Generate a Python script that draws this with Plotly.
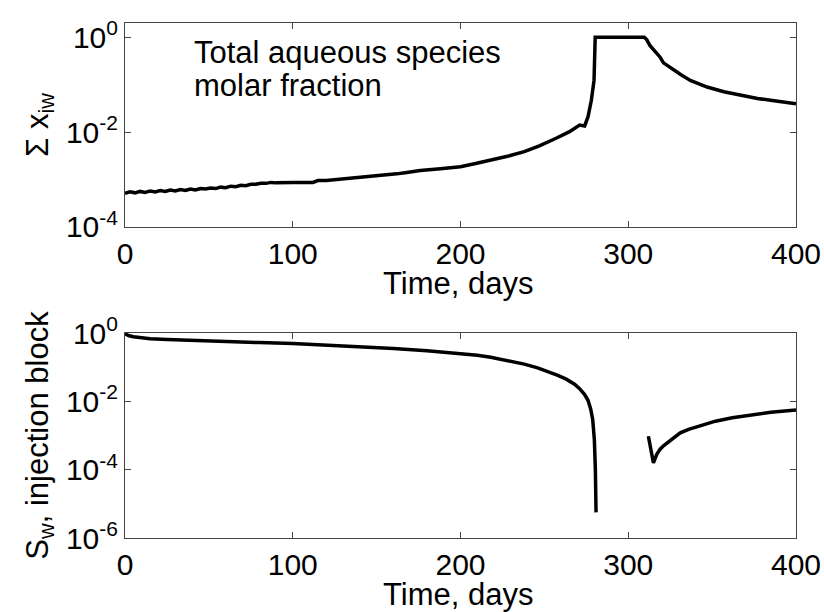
import plotly.graph_objects as go

# ---- data (time in days, values as log10 exponents) ----
t_top = [0, 3, 6, 9, 12, 15, 18, 21, 24, 27, 30, 33, 36, 39, 42, 45, 48, 51, 54, 57,
         60, 63, 66, 69, 72, 75, 78, 81, 84, 87, 90, 95, 100, 112, 115, 120, 126, 132,
         138, 144, 150, 156, 162, 168, 176, 188, 200, 209, 218, 228, 238, 247, 257,
         265, 271, 274, 276, 278, 279.6, 280.3, 309.5, 311, 313, 314.5, 316, 317.5,
         319, 321, 323, 327, 331, 337, 347, 357, 367, 377, 387, 400]
logx_top = [-3.29, -3.26, -3.28, -3.25, -3.27, -3.24, -3.26, -3.23, -3.25, -3.22,
            -3.24, -3.21, -3.23, -3.20, -3.22, -3.19, -3.20, -3.18, -3.19, -3.16,
            -3.17, -3.14, -3.15, -3.12, -3.13, -3.10, -3.10, -3.08, -3.08, -3.06,
            -3.07, -3.06, -3.06, -3.06, -3.02, -3.02, -3.00, -2.98, -2.96, -2.95,
            -2.93, -2.91, -2.88, -2.85, -2.81, -2.77, -2.73, -2.66, -2.59, -2.51,
            -2.41, -2.29, -2.13, -1.99, -1.85, -1.87, -1.68, -1.33, -0.91, 0.0, 0.0,
            -0.05, -0.18, -0.24, -0.31, -0.36, -0.42, -0.54, -0.59, -0.68, -0.78,
            -0.91, -1.05, -1.15, -1.22, -1.29, -1.34, -1.40]

t_bot = [0, 1, 2.5, 5, 9, 15, 25, 40, 60, 80, 100, 120, 140, 160, 180, 200, 210, 218,
         228, 238, 246, 253, 258, 263, 268, 271, 274, 276, 277.6, 278.8, 279.8, 280.4,
         280.8,
         None,
         312, 315, 317, 319, 321, 323, 327, 331, 336, 342, 352, 362, 372, 385, 400]
logs_bot = [-0.02, -0.05, -0.08, -0.11, -0.14, -0.17, -0.19, -0.22, -0.25, -0.28,
            -0.31, -0.35, -0.40, -0.45, -0.52, -0.60, -0.65, -0.71, -0.80, -0.91,
            -1.02, -1.14, -1.24, -1.35, -1.50, -1.63, -1.80, -1.97, -2.22, -2.53,
            -3.12, -4.00, -5.25,
            None,
            -3.02, -3.80, -3.55, -3.40, -3.30, -3.22, -3.06, -2.92, -2.82, -2.72, -2.58,
            -2.48, -2.40, -2.32, -2.25]

x_ticks = [0, 100, 200, 300, 400]
y_top_ticks = [-4, -2, 0]
y_bot_ticks = [-6, -4, -2, 0]
x_title = "Time, days"

FONT = "Liberation Sans, Arial, Helvetica, sans-serif"

def pw(v):
    return None if v is None else 10 ** v

fig = go.Figure()
fig.add_trace(go.Scatter(x=t_top, y=[pw(v) for v in logx_top], mode="lines",
                         line=dict(color="black", width=3.5), xaxis="x", yaxis="y",
                         showlegend=False))
fig.add_trace(go.Scatter(x=t_bot, y=[pw(v) for v in logs_bot], mode="lines",
                         line=dict(color="black", width=3.5), xaxis="x2", yaxis="y2",
                         showlegend=False, connectgaps=False))

ax_common = dict(showline=True, linecolor="#444", linewidth=1, mirror="ticks",
                 ticks="inside", ticklen=6, tickcolor="#444", showgrid=False,
                 zeroline=False, automargin=False,
                 tickfont=dict(size=30, color="black", family=FONT))

def tick_text(e):
    return "10<sup>%d</sup>" % e

TS = 31
fig.update_layout(
    width=824, height=612,
    margin=dict(l=125, r=28, t=23, b=74),
    paper_bgcolor="white", plot_bgcolor="white",
    font=dict(family=FONT, color="black"),
    xaxis=dict(domain=[0, 1], range=[0, 400], anchor="y", tickvals=x_ticks, **ax_common),
    yaxis=dict(domain=[0.6039, 1], type="log", range=[-4, 0.3], anchor="x",
               tickvals=[10 ** e for e in y_top_ticks],
               ticktext=[tick_text(e) for e in y_top_ticks],
               title=dict(text="Σ x<sub>iw</sub>", font=dict(size=TS), standoff=8),
               **ax_common),
    xaxis2=dict(domain=[0, 1], range=[0, 400], anchor="y2", tickvals=x_ticks, **ax_common),
    yaxis2=dict(domain=[0, 0.398], type="log", range=[-6, 0], anchor="x2",
                tickvals=[10 ** e for e in y_bot_ticks],
                ticktext=[tick_text(e) for e in y_bot_ticks],
                title=dict(text="S<sub>w</sub>, injection block", font=dict(size=TS), standoff=8),
                **ax_common),
)

# x-axis titles placed as annotations (paper coords)
for yy in [(538 - 283) / 515, (538 - 594) / 515]:
    fig.add_annotation(text=x_title, xref="paper", yref="paper", x=0.497, y=yy,
                       xanchor="center", yanchor="middle", showarrow=False,
                       font=dict(size=TS, family=FONT, color="black"))

fig.add_annotation(text="Total aqueous species", xref="x", yref="paper",
                   x=40, y=1 - (52 - 23) / 515, xanchor="left", yanchor="middle",
                   showarrow=False, font=dict(size=TS, family=FONT, color="black"))
fig.add_annotation(text="molar fraction", xref="x", yref="paper",
                   x=40, y=1 - (85 - 23) / 515, xanchor="left", yanchor="middle",
                   showarrow=False, font=dict(size=TS, family=FONT, color="black"))

fig.write_html("out.html")
